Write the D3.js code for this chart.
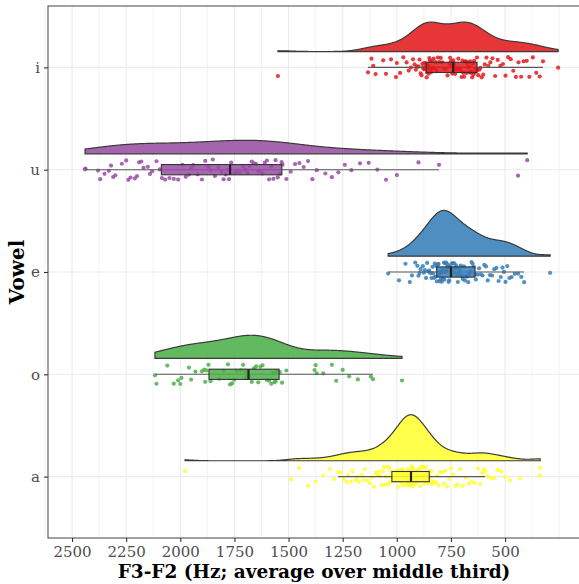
<!DOCTYPE html>
<html>
<head>
<meta charset="utf-8">
<script src="https://d3js.org/d3.v7.min.js"></script>
<style>
    body { margin: 0; background: white; }
    svg text { font-family: "DejaVu Serif", serif; }
</style>
</head>
<body>
<div id="chart"></div>
<script>
    // vowels top to bottom, Set1 colours
    const vowels = ["i", "u", "e", "o", "a"];
    const colours = ["#E41A1C", "#984EA3", "#377EB8", "#4DAF4A", "#FFFF33"];
    const xTicks = [2500, 2250, 2000, 1750, 1500, 1250, 1000, 750, 500];

    // F3-F2 (Hz) per token
    const f_i = [1549, 1133, 1117, 1109, 1098, 1063, 1050, 1027, 1004, 1000, 985, 970, 955, 945, 935, 925, 918, 912, 906, 900,
        895, 890, 886, 882, 879, 876, 873, 870, 868, 866, 864, 862, 860, 858, 856, 854, 852, 850, 847, 844,
        841, 838, 834, 830, 826, 821, 816, 810, 804, 797, 790, 782, 774, 766, 758, 754, 750, 747, 744, 741,
        739, 735, 731, 726, 721, 716, 711, 706, 701, 697, 693, 689, 685, 682, 679, 676, 673, 670, 667, 664,
        661, 658, 655, 652, 649, 646, 643, 639, 635, 630, 628, 624, 619, 614, 608, 601, 594, 586, 578, 568,
        558, 546, 534, 522, 510, 498, 486, 474, 462, 450, 438, 426, 414, 400, 388, 372, 356, 340, 325, 255];
    const f_u = [2440, 2438, 2380, 2370, 2350, 2330, 2320, 2310, 2300, 2270, 2250, 2240, 2230, 2210, 2200, 2190, 2180, 2170,
        2150, 2140, 2130, 2110, 2095, 2085, 2070, 2050, 2030, 2010, 1990, 1975, 1960, 1950, 1940, 1920, 1900, 1885,
        1870, 1860, 1850, 1840, 1825, 1810, 1800, 1790, 1780, 1775, 1765, 1750, 1740, 1725, 1710, 1700, 1690, 1680,
        1670, 1660, 1650, 1640, 1630, 1620, 1610, 1600, 1590, 1580, 1570, 1560, 1550, 1540, 1532, 1528, 1510, 1490,
        1470, 1450, 1430, 1410, 1390, 1370, 1330, 1300, 1270, 1240, 1210, 1170, 1130, 1090, 1050, 1000, 900, 805, 440, 398];
    const f_e = [1040, 990, 960, 940, 930, 915, 905, 900, 895, 890, 880, 875, 870, 865, 860, 855, 850, 845, 840, 835,
        832, 828, 825, 822, 818, 815, 812, 810, 808, 805, 802, 800, 798, 795, 792, 790, 788, 785, 782, 780,
        778, 775, 772, 770, 767, 764, 761, 758, 755, 752, 748, 745, 742, 738, 734, 730, 726, 722, 718, 714,
        710, 705, 700, 695, 690, 685, 680, 675, 670, 665, 660, 655, 650, 645, 640, 635, 628, 620, 612, 604,
        596, 588, 580, 570, 560, 550, 540, 530, 520, 512, 505, 498, 490, 480, 470, 455, 440, 425, 412, 292];
    const f_o = [2117, 2110, 2060, 2030, 2010, 2000, 1995, 1960, 1950, 1930, 1900, 1890, 1885, 1880, 1870, 1860, 1820, 1800,
        1780, 1770, 1760, 1750, 1740, 1720, 1710, 1700, 1698, 1695, 1690, 1680, 1670, 1660, 1650, 1640, 1630, 1620,
        1600, 1590, 1580, 1570, 1565, 1560, 1555, 1540, 1530, 1510, 1380, 1375, 1370, 1340, 1300, 1280, 1250, 1220,
        1180, 1120, 1110, 976];
    const f_a = [1978, 1488, 1452, 1410, 1375, 1340, 1310, 1290,
        1271, 1258, 1245, 1232, 1225, 1212, 1205, 1190, 1183, 1175, 1160, 1155, 1148, 1136, 1125, 1115, 1106, 1098,
        1090, 1083, 1077, 1071, 1065, 1060, 1055, 1050, 1045, 1040, 1036, 1032, 1028, 1025,
        1022, 1018, 1014, 1010, 1006, 1003, 1000, 997, 994, 991, 988, 986, 984, 982, 980, 978, 976, 974, 972, 970,
        968, 966, 964, 962, 960, 958, 956, 954, 952, 950, 948, 946, 944, 942, 940, 939, 938, 937, 936, 935,
        934, 933, 932, 931, 930, 928, 926, 924, 922, 920, 918, 916, 914, 912, 910, 908, 906, 904, 902, 900,
        898, 896, 894, 892, 890, 887, 884, 881, 878, 875, 872, 869, 866, 863, 860, 857, 855, 854, 852, 851,
        848, 844, 840, 835, 830, 825, 819, 813, 806, 799, 792, 784, 776, 768, 759, 750, 740, 730, 719, 707,
        695, 682, 668, 654, 640, 625, 615, 605, 598, 592,
        580, 565, 550, 535, 518, 500, 478, 431, 340, 338];

    const values = [f_i, f_u, f_e, f_o, f_a];

    const W = 579, H = 584;
    const pLeft = 48, pTop = 6, pRight = 580, pBottom = 538;

    const svg = d3.select("#chart").append("svg")
        .attr("width", W)
        .attr("height", H);

    const x = d3.scaleLinear().domain([2611, 154]).range([pLeft, pRight]);
    const y = d3.scalePoint().domain(vowels).range([pTop, pBottom]).padding(0.6);
    const step = y.step();

    // grid
    const grid = svg.append("g");
    const gridVals = d3.range(250, 2626, 125);
    gridVals.forEach(function (v) {
        grid.append("line")
            .attr("x1", x(v)).attr("x2", x(v))
            .attr("y1", pTop).attr("y2", pBottom)
            .attr("stroke", "#ebebeb")
            .attr("stroke-width", xTicks.includes(v) ? 1.1 : 0.6);
    });
    vowels.forEach(function (v) {
        grid.append("line")
            .attr("x1", pLeft).attr("x2", pRight)
            .attr("y1", y(v)).attr("y2", y(v))
            .attr("stroke", "#ebebeb")
            .attr("stroke-width", 1.1);
    });

    // kernel density, bw.nrd0, trimmed to data range
    function kde(data) {
        const s = data.slice().sort(d3.ascending);
        const n = s.length;
        const sd = d3.deviation(s);
        const iqr = d3.quantileSorted(s, 0.75) - d3.quantileSorted(s, 0.25);
        const bw = 0.9 * Math.min(sd, iqr / 1.34) * Math.pow(n, -0.2);
        const lo = s[0], hi = s[n - 1];
        const out = [];
        for (let k = 0; k < 512; k++) {
            const t = lo + (hi - lo) * k / 511;
            let sum = 0;
            for (const v of s) {
                const z = (t - v) / bw;
                sum += Math.exp(-0.5 * z * z);
            }
            out.push([t, sum / (n * bw * Math.sqrt(2 * Math.PI))]);
        }
        return out;
    }

    const dens = values.map(kde);
    const maxD = d3.max(dens, d => d3.max(d, p => p[1]));
    const hScale = d3.scaleLinear().domain([0, maxD]).range([0, 0.45 * step]);

    // little deterministic jitter
    function jit(i) {
        const s = Math.sin(i * 78.233 + 12.9898) * 43758.5453;
        return (s - Math.floor(s)) * 2 - 1;
    }

    vowels.forEach(function (vw, gi) {
        const cy = y(vw);
        const base = cy - 0.155 * step;
        const col = colours[gi];
        const d = dens[gi];

        // flat violin
        const pts = [[x(d[0][0]), base]]
            .concat(d.map(p => [x(p[0]), base - hScale(p[1])]))
            .concat([[x(d[d.length - 1][0]), base]]);
        svg.append("path")
            .attr("d", d3.line()(pts) + "Z")
            .attr("fill", col)
            .attr("fill-opacity", 0.88)
            .attr("stroke", "#3a3a3a")
            .attr("stroke-width", 1.2);

        // jittered points
        svg.append("g").selectAll("circle")
            .data(values[gi])
            .join("circle")
            .attr("cx", v => x(v))
            .attr("cy", (v, i) => cy + jit(i + gi * 300) * 0.1 * step)
            .attr("r", 2.1)
            .attr("fill", col)
            .attr("fill-opacity", 0.85);

        // boxplot
        const s = values[gi].slice().sort(d3.ascending);
        const q1 = d3.quantileSorted(s, 0.25);
        const med = d3.quantileSorted(s, 0.5);
        const q3 = d3.quantileSorted(s, 0.75);
        const iqr = q3 - q1;
        const wLo = d3.min(s.filter(v => v >= q1 - 1.5 * iqr));
        const wHi = d3.max(s.filter(v => v <= q3 + 1.5 * iqr));
        const bh = 0.05 * step;

        svg.append("line")
            .attr("x1", x(wHi)).attr("x2", x(wLo))
            .attr("y1", cy).attr("y2", cy)
            .attr("stroke", "#595959")
            .attr("stroke-width", 1.1);
        svg.append("rect")
            .attr("x", x(q3)).attr("width", x(q1) - x(q3))
            .attr("y", cy - bh).attr("height", 2 * bh)
            .attr("fill", col)
            .attr("fill-opacity", 0.85)
            .attr("stroke", "#333")
            .attr("stroke-width", 1.1);
        svg.append("line")
            .attr("x1", x(med)).attr("x2", x(med))
            .attr("y1", cy - bh).attr("y2", cy + bh)
            .attr("stroke", "#222")
            .attr("stroke-width", 2.2);
    });

    // panel border
    svg.append("rect")
        .attr("x", pLeft).attr("y", pTop)
        .attr("width", pRight - pLeft).attr("height", pBottom - pTop)
        .attr("fill", "none")
        .attr("stroke", "#555")
        .attr("stroke-width", 1.1);

    // axes
    const xAxis = svg.append("g")
        .attr("transform", "translate(0," + pBottom + ")")
        .call(d3.axisBottom(x).tickValues(xTicks).tickFormat(d3.format("d")).tickSize(4).tickPadding(4));
    const yAxis = svg.append("g")
        .attr("transform", "translate(" + pLeft + ",0)")
        .call(d3.axisLeft(y).tickSize(4).tickPadding(4));

    [xAxis, yAxis].forEach(function (g) {
        g.select(".domain").remove();
        g.selectAll(".tick line").attr("stroke", "#333").attr("stroke-width", 1.1);
        g.selectAll(".tick text")
            .attr("fill", "#4d4d4d")
            .style("font-family", "'DejaVu Serif', serif")
            .style("font-size", "15px");
    });

    // titles
    svg.append("text")
        .attr("x", (pLeft + pRight) / 2)
        .attr("y", 578)
        .attr("text-anchor", "middle")
        .style("font-size", "18.5px")
        .style("font-weight", "bold")
        .text("F3-F2 (Hz; average over middle third)");

    svg.append("text")
        .attr("transform", "translate(24," + ((pTop + pBottom) / 2) + ") rotate(-90)")
        .attr("text-anchor", "middle")
        .style("font-size", "20px")
        .style("font-weight", "bold")
        .text("Vowel");
</script>
</body>
</html>
